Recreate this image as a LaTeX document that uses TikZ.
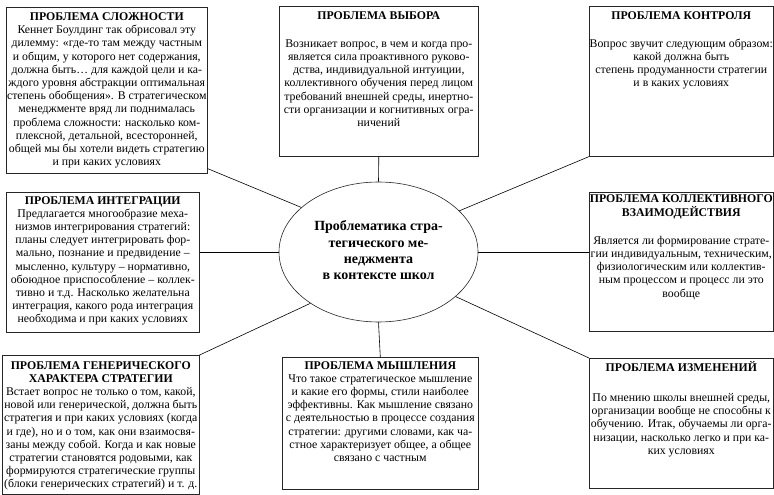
\documentclass[tikz,border=0pt]{standalone}
\usepackage{fontspec}
\setmainfont{Liberation Serif}
\usetikzlibrary{shapes.geometric}

\tikzset{
  probl/.style={draw=black!85, line width=0.6pt, rectangle, anchor=north west, inner sep=0pt, font=\fontsize{11.8}{13.2}\selectfont},
  centr/.style={draw=black!85, line width=0.6pt, ellipse, minimum width=199pt, minimum height=140pt, inner sep=0pt, font=\bfseries\fontsize{14}{16.3}\selectfont},
  link/.style={black, line width=0.6pt}
}
% width, height, space on top, lines
\newcommand{\probltext}[4]{\begin{minipage}[t][#2][t]{#1}\vspace*{#3}\makebox[\linewidth]{\begin{tabular}[t]{@{}c@{}}#4\end{tabular}}\end{minipage}}

\begin{document}
\begin{tikzpicture}[x=1pt,y=-1pt]

\useasboundingbox (0,0) rectangle (774,495);

\node (centr) at (378.5,252) [centr] {\raisebox{6pt}{\begin{tabular}{@{}c@{}}Проблематика стра-\\тегического ме-\\неджмента\\в контексте школ\end{tabular}}};

\node (slozh) at (6,7) [probl] {\probltext{201pt}{166pt}{4pt}{\textbf{ПРОБЛЕМА СЛОЖНОСТИ}\\
Кеннет Боулдинг так обрисовал эту\\
дилемму: «где-то там между частным\\
и общим, у которого нет содержания,\\
должна быть… для каждой цели и ка-\\
ждого уровня абстракции оптимальная\\
степень обобщения». В стратегическом\\
менеджменте вряд ли поднималась\\
проблема сложности: насколько ком-\\
плексной, детальной, всесторонней,\\
общей мы бы хотели видеть стратегию\\
и при каких условиях}};

\node (vybor) at (279,6) [probl] {\probltext{199pt}{150pt}{3.5pt}{\textbf{ПРОБЛЕМА ВЫБОРА}\\[15pt]
Возникает вопрос, в чем и когда про-\\
является сила проактивного руково-\\
дства, индивидуальной интуиции,\\
коллективного обучения перед лицом\\
требований внешней среды, инертно-\\
сти организации и когнитивных огра-\\
ничений}};

\node (kontrol) at (589,6) [probl] {\probltext{184pt}{150pt}{3.5pt}{\textbf{ПРОБЛЕМА КОНТРОЛЯ}\\[15pt]
Вопрос звучит следующим образом:\\
какой должна быть\\
степень продуманности стратегии\\
и в каких условиях}};

\node (integr) at (6,192) [probl] {\probltext{193pt}{140pt}{2.5pt}{\textbf{ПРОБЛЕМА ИНТЕГРАЦИИ}\\
Предлагается многообразие меха-\\
низмов интегрирования стратегий:\\
планы следует интегрировать фор-\\
мально, познание и предвидение –\\
мысленно, культуру – нормативно,\\
обоюдное приспособление – коллек-\\
тивно и т.д. Насколько желательна\\
интеграция, какого рода интеграция\\
необходима и при каких условиях}};

\node (kollekt) at (589,192) [probl] {\probltext{184pt}{139pt}{0.5pt}{\textbf{ПРОБЛЕМА КОЛЛЕКТИВНОГО}\\
\textbf{ВЗАИМОДЕЙСТВИЯ}\\[15pt]
Является ли формирование страте-\\
гии индивидуальным, техническим,\\
физиологическим или коллектив-\\
ным процессом и процесс ли это\\
вообще}};

\node (gener) at (2,355) [probl] {\probltext{197pt}{139pt}{4.5pt}{\textbf{ПРОБЛЕМА ГЕНЕРИЧЕСКОГО}\\
\textbf{ХАРАКТЕРА СТРАТЕГИИ}\\
Встает вопрос не только о том, какой,\\
новой или генерической, должна быть\\
стратегия и при каких условиях (когда\\
и где), но и о том, как они взаимосвя-\\
заны между собой. Когда и как новые\\
стратегии становятся родовыми, как\\
формируются стратегические группы\\
(блоки генерических стратегий) и т. д.}};

\node (myshl) at (282,357) [probl] {\probltext{196pt}{132pt}{2.5pt}{\textbf{ПРОБЛЕМА МЫШЛЕНИЯ}\\
Что такое стратегическое мышление\\
и какие его формы, стили наиболее\\
эффективны. Как мышление связано\\
с деятельностью в процессе создания\\
стратегии: другими словами, как ча-\\
стное характеризует общее, а общее\\
связано с частным}};

\node (izmen) at (589,358) [probl] {\probltext{184pt}{130pt}{3pt}{\textbf{ПРОБЛЕМА ИЗМЕНЕНИЙ}\\[17pt]
По мнению школы внешней среды,\\
организации вообще не способны к\\
обучению. Итак, обучаемы ли орга-\\
низации, насколько легко и при ка-\\
ких условиях}};

% connectors to the centre
\draw[link] ([yshift=5pt]slozh.south east) -- (centr.150.7);
\draw[link] (vybor.south) -- (centr.north);
\draw[link] (kontrol.south west) -- (centr.27.8);
\draw[link] (integr.east |- centr.west) -- (centr.west);
\draw[link] (kollekt.west |- centr.east) -- (centr.east);
\draw[link] (centr.217.7) -- (gener.north east);
\draw[link] (centr.south) -- (myshl.north);
\draw[link] (centr.330.5) -- (izmen.north west);

\end{tikzpicture}
\end{document}
